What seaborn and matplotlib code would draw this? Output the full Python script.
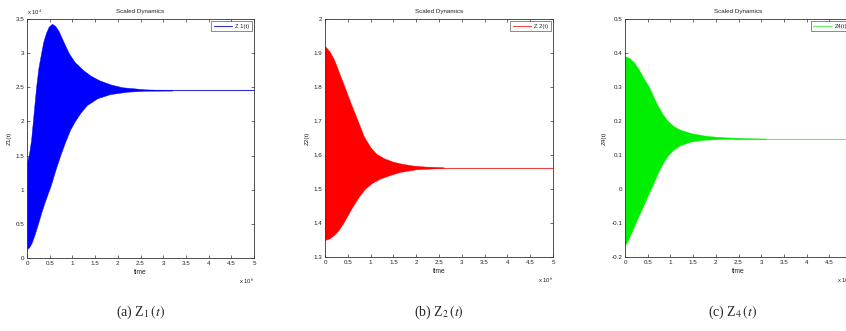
import numpy as np
import pandas as pd
import matplotlib
matplotlib.use("Agg")
import matplotlib.pyplot as plt
import seaborn as sns

sns.set_style("ticks")
plt.rcParams['font.family'] = ['Liberation Sans', 'DejaVu Sans']
plt.rcParams['mathtext.fontset'] = 'stix'

# ---- data (time in units of 1e6) ----
# Panel (a) Z1(t), values in units of 1e4
z1_up_t = [0, 0.05, 0.09, 0.15, 0.2, 0.25, 0.31, 0.36, 0.42, 0.48, 0.55, 0.62, 0.7, 0.8, 0.92, 1.05, 1.24, 1.4, 1.6, 1.85, 2.1, 2.6, 3.2]
z1_up_v = [1.4, 1.55, 1.73, 2.15, 2.5, 2.78, 3.0, 3.17, 3.3, 3.39, 3.43, 3.4, 3.32, 3.17, 3.0, 2.87, 2.75, 2.67, 2.6, 2.54, 2.5, 2.47, 2.455]
z1_lo_t = [0, 0.05, 0.1, 0.17, 0.24, 0.32, 0.4, 0.52, 0.63, 0.74, 0.84, 0.95, 1.05, 1.18, 1.32, 1.55, 1.83, 2.2, 2.6, 3.2]
z1_lo_v = [0.13, 0.16, 0.22, 0.35, 0.5, 0.68, 0.84, 1.06, 1.3, 1.52, 1.7, 1.88, 2.0, 2.13, 2.24, 2.34, 2.4, 2.435, 2.45, 2.452]
z1_eq = 2.453
z1_line_t = [2.6, 5]

# Panel (b) Z2(t)
z2_up_t = [0, 0.1, 0.2, 0.3, 0.43, 0.57, 0.72, 0.85, 1.0, 1.13, 1.3, 1.5, 1.7, 1.93, 2.2, 2.6]
z2_up_v = [1.92, 1.905, 1.88, 1.845, 1.8, 1.75, 1.7, 1.655, 1.622, 1.603, 1.59, 1.58, 1.574, 1.569, 1.566, 1.564]
z2_lo_t = [0, 0.1, 0.2, 0.3, 0.4, 0.5, 0.61, 0.74, 0.87, 1.03, 1.2, 1.4, 1.64, 2.0, 2.6]
z2_lo_v = [1.35, 1.355, 1.365, 1.38, 1.4, 1.424, 1.45, 1.477, 1.5, 1.518, 1.53, 1.54, 1.55, 1.558, 1.562]
z2_eq = 1.563
z2_line_t = [2.2, 5]

# Panel (c) Z4(t)
z4_up_t = [0, 0.1, 0.2, 0.3, 0.4, 0.53, 0.62, 0.7, 0.82, 0.94, 1.07, 1.2, 1.46, 1.8, 2.2, 2.8, 3.1]
z4_up_v = [0.39, 0.385, 0.372, 0.352, 0.328, 0.3, 0.273, 0.25, 0.222, 0.2, 0.185, 0.175, 0.164, 0.156, 0.152, 0.149, 0.1485]
z4_lo_t = [0, 0.05, 0.1, 0.16, 0.23, 0.31, 0.4, 0.48, 0.57, 0.66, 0.75, 0.85, 0.95, 1.07, 1.2, 1.46, 1.75, 2.1, 2.6]
z4_lo_v = [-0.165, -0.155, -0.14, -0.122, -0.1, -0.076, -0.05, -0.025, 0.0, 0.028, 0.055, 0.08, 0.1, 0.116, 0.128, 0.14, 0.145, 0.147, 0.148]
z4_eq = 0.148
z4_line_t = [2.4, 5]

panels = [
    dict(up_t=z1_up_t, up_v=z1_up_v, lo_t=z1_lo_t, lo_v=z1_lo_v, eq=z1_eq, line_t=z1_line_t,
         color='#0000ff', lcolor='#3333cc', ylim=(0, 3.5), yticks=[0, 0.5, 1, 1.5, 2, 2.5, 3, 3.5],
         yticklabels=['0', '0.5', '1', '1.5', '2', '2.5', '3', '3.5'],
         ylabel='Z1(t)', legend='Z 1(t)', cap='(a) Z$_1\\,(t)$', exp_top=True,
         pos=[27, 19, 254, 258]),
    dict(up_t=z2_up_t, up_v=z2_up_v, lo_t=z2_lo_t, lo_v=z2_lo_v, eq=z2_eq, line_t=z2_line_t,
         color='#ff0000', lcolor='#ee4444', ylim=(1.3, 2.0), yticks=[1.3, 1.4, 1.5, 1.6, 1.7, 1.8, 1.9, 2.0],
         yticklabels=['1.3', '1.4', '1.5', '1.6', '1.7', '1.8', '1.9', '2'],
         ylabel='Z2(t)', legend='Z 2(t)', cap='(b) Z$_2\\,(t)$', exp_top=False,
         pos=[325, 19, 553, 257]),
    dict(up_t=z4_up_t, up_v=z4_up_v, lo_t=z4_lo_t, lo_v=z4_lo_v, eq=z4_eq, line_t=z4_line_t,
         color='#00ee00', lcolor='#66ee66', ylim=(-0.2, 0.5), yticks=[-0.2, -0.1, 0, 0.1, 0.2, 0.3, 0.4, 0.5],
         yticklabels=['-0.2', '-0.1', '0', '0.1', '0.2', '0.3', '0.4', '0.5'],
         ylabel='Z4(t)', legend='Z4(t)', cap='(c) Z$_4\\,(t)$', exp_top=False,
         pos=[625, 19, 852, 257]),
]

xticks = [0, 0.5, 1, 1.5, 2, 2.5, 3, 3.5, 4, 4.5, 5]
xticklabels = ['0', '0.5', '1', '1.5', '2', '2.5', '3', '3.5', '4', '4.5', '5']

W, H = 846, 331
fig = plt.figure(figsize=(W / 100, H / 100), dpi=100)

for p in panels:
    l, t, r, b = p['pos']
    ax = fig.add_axes([l / W, 1 - b / H, (r - l) / W, (b - t) / H])
    # equilibrium line
    df_eq = pd.DataFrame({'time': p['line_t'], 'val': [p['eq'], p['eq']]})
    sns.lineplot(data=df_eq, x='time', y='val', ax=ax, color=p['lcolor'], lw=0.8,
                 label=p['legend'], zorder=1)
    # oscillation envelope fill
    tt = np.union1d(p['up_t'], p['lo_t'])
    up = np.interp(tt, p['up_t'], p['up_v'])
    lo = np.interp(tt, p['lo_t'], p['lo_v'])
    ax.fill_between(tt, lo, up, color=p['color'], lw=0.3, edgecolor=p['color'], zorder=2)

    ax.set_xlim(0, 5)
    ax.set_ylim(*p['ylim'])
    ax.set_xticks(xticks)
    ax.set_xticklabels(xticklabels)
    ax.set_yticks(p['yticks'])
    ax.set_yticklabels(p['yticklabels'])
    ax.tick_params(direction='in', length=2.5, width=0.5, labelsize=4.5, pad=2,
                   top=True, right=True, colors='#333333', labelcolor='#222222')
    for s in ax.spines.values():
        s.set_linewidth(0.6)
        s.set_color('#333333')
        s.set_visible(True)
    ax.set_xlabel('time', fontsize=4.8, labelpad=2.5, color='#222222')
    ax.set_ylabel(p['ylabel'], fontsize=4.5, labelpad=3, color='#222222')
    ax.set_title('Scaled Dynamics', fontsize=4.5, pad=4, color='#222222')
    leg = ax.legend(loc='upper right', fontsize=4.2, frameon=True, fancybox=False,
                    handlelength=3.2, borderpad=0.4, handletextpad=0.5,
                    borderaxespad=0.4)
    leg.get_frame().set_edgecolor('#333333')
    leg.get_frame().set_linewidth(0.5)
    # exponent labels
    ax.text(1.0, -0.075, r'x 10$^6$', transform=ax.transAxes, fontsize=4.2,
            ha='right', va='top', color='#222222')
    if p['exp_top']:
        ax.text(0.0, 1.01, r'x 10$^4$', transform=ax.transAxes, fontsize=4.2,
                ha='left', va='bottom', color='#222222')
    fig.text(((l + r) / 2 - (6 if r > W else 0)) / W, 1 - 312 / H, p['cap'],
             fontsize=10, ha='center', va='center', family='Liberation Serif')

fig.savefig('out.png', dpi=100)
